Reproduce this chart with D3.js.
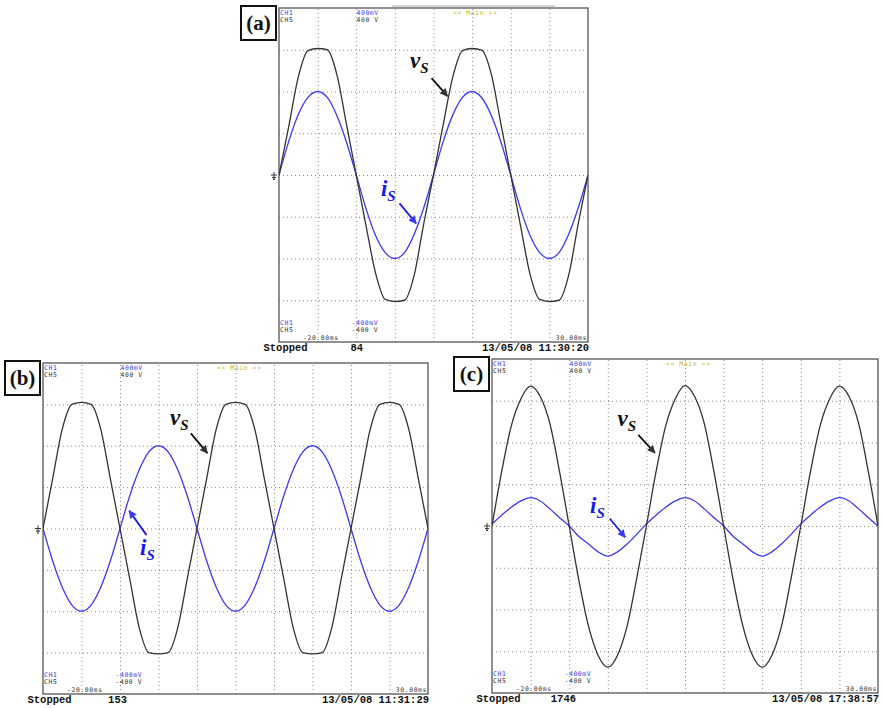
<!DOCTYPE html>
<html>
<head>
<meta charset="utf-8">
<script src="https://cdn.jsdelivr.net/npm/d3@7"></script>
<style>
    html, body { margin: 0; padding: 0; background: #fff; }
    svg { display: block; }
</style>
</head>
<body>
<div id="chart"></div>
<script>
/*global d3*/
// Traces, in screen divisions, one sample every 0.25 div
var sampleStep = 0.25;

var vsA = [0, 1.15, 2.35, 2.98, 3.03, 3.0, 2.4, 1.2, 0, -1.2, -2.35, -2.98, -3.03, -3.0, -2.4, -1.15,
    0, 1.2, 2.35, 2.98, 3.03, 2.99, 2.4, 1.2, 0, -1.2, -2.38, -2.98, -3.03, -3.0, -2.4, -1.15, 0];
var isA = [0, 0.8, 1.45, 1.86, 2.0, 1.86, 1.42, 0.78, 0, -0.8, -1.45, -1.86, -2.0, -1.86, -1.42, -0.78,
    0, 0.8, 1.44, 1.86, 2.0, 1.85, 1.42, 0.78, 0, -0.8, -1.45, -1.86, -2.0, -1.86, -1.42, -0.78, 0];

var vsB = [0, 1.2, 2.4, 3.0, 3.05, 3.0, 2.4, 1.2, 0, -1.2, -2.4, -3.0, -3.03, -3.0, -2.4, -1.2,
    0, 1.2, 2.4, 3.0, 3.05, 3.0, 2.4, 1.2, 0, -1.2, -2.4, -3.0, -3.03, -3.0, -2.4, -1.2,
    0, 1.2, 2.4, 3.0, 3.05, 3.0, 2.4, 1.2, 0];
var isB = [0, -0.78, -1.42, -1.85, -2.0, -1.85, -1.42, -0.78, 0, 0.78, 1.42, 1.85, 2.0, 1.85, 1.42, 0.78,
    0, -0.78, -1.42, -1.85, -2.0, -1.85, -1.42, -0.78, 0, 0.78, 1.42, 1.85, 2.0, 1.85, 1.42, 0.78,
    0, -0.78, -1.42, -1.85, -2.0, -1.85, -1.42, -0.78, 0];

var vsC = [0, 1.3, 2.4, 3.05, 3.35, 3.1, 2.45, 1.3, 0, -1.3, -2.4, -3.1, -3.38, -3.1, -2.4, -1.25,
    0, 1.3, 2.4, 3.05, 3.36, 3.1, 2.45, 1.3, 0, -1.3, -2.4, -3.1, -3.38, -3.1, -2.4, -1.25,
    0, 1.3, 2.4, 3.05, 3.35, 3.1, 2.45, 1.3, 0];
var isC = [0.05, 0.26, 0.45, 0.6, 0.68, 0.6, 0.41, 0.2, 0, -0.25, -0.43, -0.62, -0.72, -0.62, -0.43, -0.2,
    0.05, 0.26, 0.45, 0.6, 0.68, 0.6, 0.41, 0.2, 0, -0.25, -0.43, -0.62, -0.72, -0.62, -0.43, -0.2,
    0.05, 0.26, 0.45, 0.6, 0.68, 0.6, 0.41, 0.2, 0];

var panelTags = ['(a)', '(b)', '(c)'];
var shotCounts = ['84', '153', '1746'];
var timeStamps = ['13/05/08 11:30:20', '13/05/08 11:31:29', '13/05/08 17:38:57'];
var timeRange = ['-20.00ms', '30.00ms'];
var channelNames = ['CH1', 'CH5'];
var topScales = ['400mV', '400 V'];
var bottomScales = ['-400mV', '-400 V'];

// label anchors in divisions: [t, v] for the letter, [t0, v0, t1, v1] for the arrow
var vsLabelPos = [[3.39, 2.56], [3.30, 2.50], [3.25, 2.40]];
var vsArrowPos = [[3.95, 2.32, 4.36, 1.89], [3.84, 2.30, 4.27, 1.82], [3.79, 2.18, 4.22, 1.75]];
var isLabelPos = [[2.64, -0.50], [2.52, -0.64], [2.54, 0.31]];
var isArrowPos = [[3.12, -0.68, 3.55, -1.16], [2.69, -0.16, 2.24, 0.43], [3.05, 0.18, 3.45, -0.27]];

(function () {
    'use strict';

    var width = 884,
        height = 708,
        blue = '#3a3af0',
        dark = '#333333',

        layout = [
            { x: 279, y: 8, w: 309, h: 334, cols: 8, topBar: true },
            { x: 43, y: 363, w: 385, h: 331, cols: 10, topBar: false },
            { x: 492, y: 359, w: 386, h: 334, cols: 10, topBar: false }
        ],
        traces = [[vsA, isA], [vsB, isB], [vsC, isC]],

        svg = d3.select('#chart')
            .append('svg')
            .attr('width', width)
            .attr('height', height);

    svg.append('defs').selectAll('marker')
        .data([['arrowDark', dark], ['arrowBlue', blue]])
        .enter()
        .append('marker')
        .attr('id', function (d) { return d[0]; })
        .attr('viewBox', '0 0 10 10')
        .attr('refX', 9)
        .attr('refY', 5)
        .attr('markerWidth', 9)
        .attr('markerHeight', 8)
        .attr('markerUnits', 'userSpaceOnUse')
        .attr('orient', 'auto')
        .append('path')
        .attr('d', 'M0,0L10,5L0,10z')
        .style('fill', function (d) { return d[1]; });

    // tiny scope readout text
    function scopeText(g, x, y, txt, color, anchor) {
        g.append('text')
            .attr('x', x)
            .attr('y', y)
            .attr('text-anchor', anchor || 'start')
            .style('font-family', '"DejaVu Sans Mono", monospace')
            .style('font-size', '6.4px')
            .style('letter-spacing', '0.6px')
            .style('fill', color)
            .text(txt);
    }

    function subLabel(g, x, y, main, color) {
        var t = g.append('text')
            .attr('x', x)
            .attr('y', y)
            .style('font-family', '"Liberation Serif", "Times New Roman", serif')
            .style('font-style', 'italic')
            .style('font-weight', 'bold')
            .style('fill', color);
        t.append('tspan').style('font-size', '23px').text(main);
        t.append('tspan').attr('dy', 5).style('font-size', '15px').text('S');
    }

    layout.forEach(function (p, k) {
        var x = d3.scaleLinear().domain([0, p.cols]).range([0, p.w]),
            y = d3.scaleLinear().domain([-4, 4]).range([p.h, 0]),
            g = svg.append('g').attr('transform', 'translate(' + p.x + ',' + p.y + ')'),
            line = d3.line()
                .x(function (d, i) { return x(i * sampleStep); })
                .y(function (d) { return y(d); })
                .curve(d3.curveMonotoneX),
            clipId = 'clip' + k;

        g.append('clipPath').attr('id', clipId)
            .append('rect').attr('width', p.w).attr('height', p.h);

        // dotted graticule
        g.append('g')
            .attr('transform', 'translate(0,' + p.h + ')')
            .call(d3.axisBottom(x).tickValues(d3.range(1, p.cols)).tickSize(-p.h).tickFormat(''))
            .call(function (s) {
                s.select('.domain').remove();
                s.selectAll('line').attr('stroke', '#8a8a8a').attr('stroke-dasharray', '1,3');
            });
        g.append('g')
            .call(d3.axisLeft(y).tickValues(d3.range(-3, 4)).tickSize(-p.w).tickFormat(''))
            .call(function (s) {
                s.select('.domain').remove();
                s.selectAll('line').attr('stroke', '#8a8a8a').attr('stroke-dasharray', '1,3');
            });

        g.append('rect')
            .attr('width', p.w)
            .attr('height', p.h)
            .style('fill', 'none')
            .style('stroke', '#555')
            .style('stroke-width', '1.3px');

        if (p.topBar) {
            g.append('line')
                .attr('x1', 113).attr('x2', 276)
                .attr('y1', -2).attr('y2', -2)
                .style('stroke', '#aaa')
                .style('stroke-width', '1px');
        }

        // ground marker on the left edge
        g.append('path')
            .attr('d', 'M-8,' + y(0) + 'h6M-5,' + (y(0) - 3) + 'v7M-7,' + (y(0) + 2.5) + 'h4M-6,' + (y(0) + 4.5) + 'h2')
            .style('stroke', dark)
            .style('stroke-width', '1px')
            .style('fill', 'none');

        // traces: current first, voltage on top
        g.append('path')
            .datum(traces[k][1])
            .attr('d', line)
            .attr('clip-path', 'url(#' + clipId + ')')
            .style('fill', 'none')
            .style('stroke', blue)
            .style('stroke-width', '1.3px');
        g.append('path')
            .datum(traces[k][0])
            .attr('d', line)
            .attr('clip-path', 'url(#' + clipId + ')')
            .style('fill', 'none')
            .style('stroke', dark)
            .style('stroke-width', '1.3px');

        // scope readouts
        scopeText(g, 1, 6.5, channelNames[0], blue);
        scopeText(g, 1, 13.5, channelNames[1], dark);
        scopeText(g, 77.5, 6.5, topScales[0], blue);
        scopeText(g, 77.5, 13.5, topScales[1], dark);
        scopeText(g, 174, 6.5, '<< Main >>', '#c2b82a');
        scopeText(g, 1, p.h - 17, channelNames[0], blue);
        scopeText(g, 1, p.h - 10, channelNames[1], dark);
        scopeText(g, 72.5, p.h - 17, bottomScales[0], blue);
        scopeText(g, 72.5, p.h - 10, bottomScales[1], dark);
        scopeText(g, 24, p.h - 2, timeRange[0], dark);
        scopeText(g, p.w - 1, p.h - 2, timeRange[1], dark, 'end');

        g.selectAll('.status')
            .data([[-15.5, 'Stopped', 'start'], [84, shotCounts[k], 'end'], [p.w + 1, timeStamps[k], 'end']])
            .enter()
            .append('text')
            .attr('class', 'status')
            .attr('x', function (d) { return d[0]; })
            .attr('y', p.h + 9)
            .attr('text-anchor', function (d) { return d[2]; })
            .style('font-family', '"Liberation Mono", monospace')
            .style('font-size', '10.5px')
            .style('font-weight', 'bold')
            .style('fill', '#111')
            .text(function (d) { return d[1]; });

        // panel tag box
        g.append('rect')
            .attr('x', -38)
            .attr('y', -2)
            .attr('width', 35)
            .attr('height', 34)
            .style('fill', '#fff')
            .style('stroke', '#111')
            .style('stroke-width', '2px');
        g.append('text')
            .attr('x', -20.5)
            .attr('y', 22)
            .attr('text-anchor', 'middle')
            .style('font-family', '"Liberation Serif", "Times New Roman", serif')
            .style('font-weight', 'bold')
            .style('font-size', '21px')
            .style('fill', '#111')
            .text(panelTags[k]);

        // annotations
        subLabel(g, x(vsLabelPos[k][0]), y(vsLabelPos[k][1]), 'v', '#111');
        subLabel(g, x(isLabelPos[k][0]), y(isLabelPos[k][1]), 'i', '#1a1ae6');
        g.append('line')
            .attr('x1', x(vsArrowPos[k][0])).attr('y1', y(vsArrowPos[k][1]))
            .attr('x2', x(vsArrowPos[k][2])).attr('y2', y(vsArrowPos[k][3]))
            .attr('marker-end', 'url(#arrowDark)')
            .style('stroke', '#111')
            .style('stroke-width', '1.8px');
        g.append('line')
            .attr('x1', x(isArrowPos[k][0])).attr('y1', y(isArrowPos[k][1]))
            .attr('x2', x(isArrowPos[k][2])).attr('y2', y(isArrowPos[k][3]))
            .attr('marker-end', 'url(#arrowBlue)')
            .style('stroke', '#1a1ae6')
            .style('stroke-width', '1.8px');
    });

}());
</script>
</body>
</html>
